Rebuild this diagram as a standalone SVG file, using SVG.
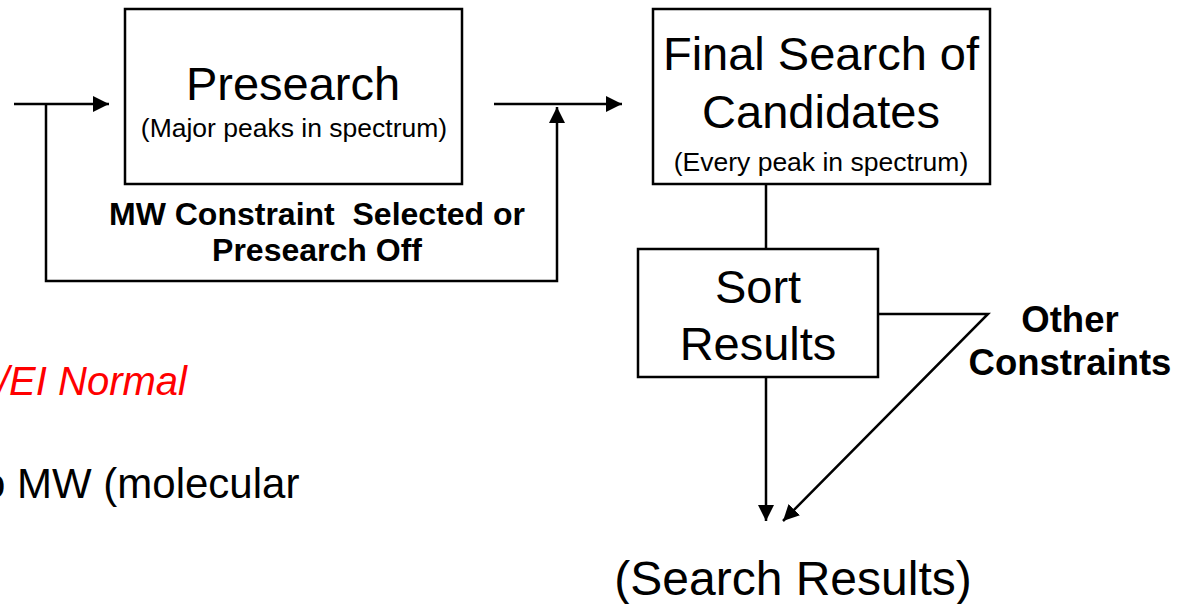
<svg xmlns="http://www.w3.org/2000/svg" width="1188" height="604" viewBox="0 0 1188 604">
  <style>
    .box { fill: #ffffff; stroke: #000000; stroke-width: 2.5; }
    .wire { fill: none; stroke: #000000; stroke-width: 2.5; }
    .t { font-family: "Liberation Sans", Arial, sans-serif; fill: #000000; text-anchor: middle; }
    .big { font-size: 47px; }
    .sub { font-size: 26.5px; }
    .bold { font-weight: bold; }
  </style>
  <defs>
    <marker id="arrow" viewBox="0 0 10 10" refX="10" refY="5" markerWidth="16" markerHeight="16" markerUnits="userSpaceOnUse" orient="auto">
      <path d="M0,0 L10,5 L0,10 z" fill="#000000"/>
    </marker>
  </defs>

  <rect width="1188" height="604" fill="#ffffff"/>

  <!-- connectors -->
  <g id="connectors">
    <line class="wire" x1="14" y1="104" x2="109" y2="104" marker-end="url(#arrow)"/>
    <polyline class="wire" points="46,104 46,281 557,281 557,107" marker-end="url(#arrow)"/>
    <line class="wire" x1="494" y1="104" x2="622" y2="104" marker-end="url(#arrow)"/>
    <line class="wire" x1="766" y1="184" x2="766" y2="249"/>
    <line class="wire" x1="766" y1="377" x2="766" y2="521" marker-end="url(#arrow)"/>
    <polyline class="wire" points="878,314 988,314 783,521" marker-end="url(#arrow)"/>
  </g>

  <!-- presearch stage -->
  <g id="presearch">
    <rect class="box" x="125" y="9" width="337" height="175"/>
    <text class="t big" x="293" y="100">Presearch</text>
    <text class="t sub" x="294" y="137">(Major peaks in spectrum)</text>
  </g>

  <g id="bypass-label">
    <text class="t bold" x="317" y="225" font-size="32" xml:space="preserve">MW Constraint  Selected or</text>
    <text class="t bold" x="317" y="261" font-size="32">Presearch Off</text>
  </g>

  <!-- final search stage -->
  <g id="final-search">
    <rect class="box" x="653" y="9" width="337" height="175"/>
    <text class="t big" x="821" y="70">Final Search of</text>
    <text class="t big" x="821" y="128">Candidates</text>
    <text class="t sub" x="821" y="171">(Every peak in spectrum)</text>
  </g>

  <!-- sorting stage -->
  <g id="sort-results">
    <rect class="box" x="638" y="249" width="240" height="128"/>
    <text class="t big" x="758" y="303">Sort</text>
    <text class="t big" x="758" y="360">Results</text>
  </g>

  <g id="other-constraints">
    <text class="t bold" x="1070" y="332" font-size="36.5">Other</text>
    <text class="t bold" x="1070" y="375" font-size="36.5">Constraints</text>
  </g>

  <g id="search-results">
    <text class="t" x="793" y="595" font-size="48">(Search Results)</text>
  </g>

  <!-- side notes, running off the left edge -->
  <text x="-2" y="395" font-family="Liberation Sans, Arial, sans-serif" font-size="40" font-style="italic" fill="#ff0000">/EI Normal</text>
  <text x="-18" y="498" font-family="Liberation Sans, Arial, sans-serif" font-size="42" fill="#000000">o MW (molecular</text>
</svg>
